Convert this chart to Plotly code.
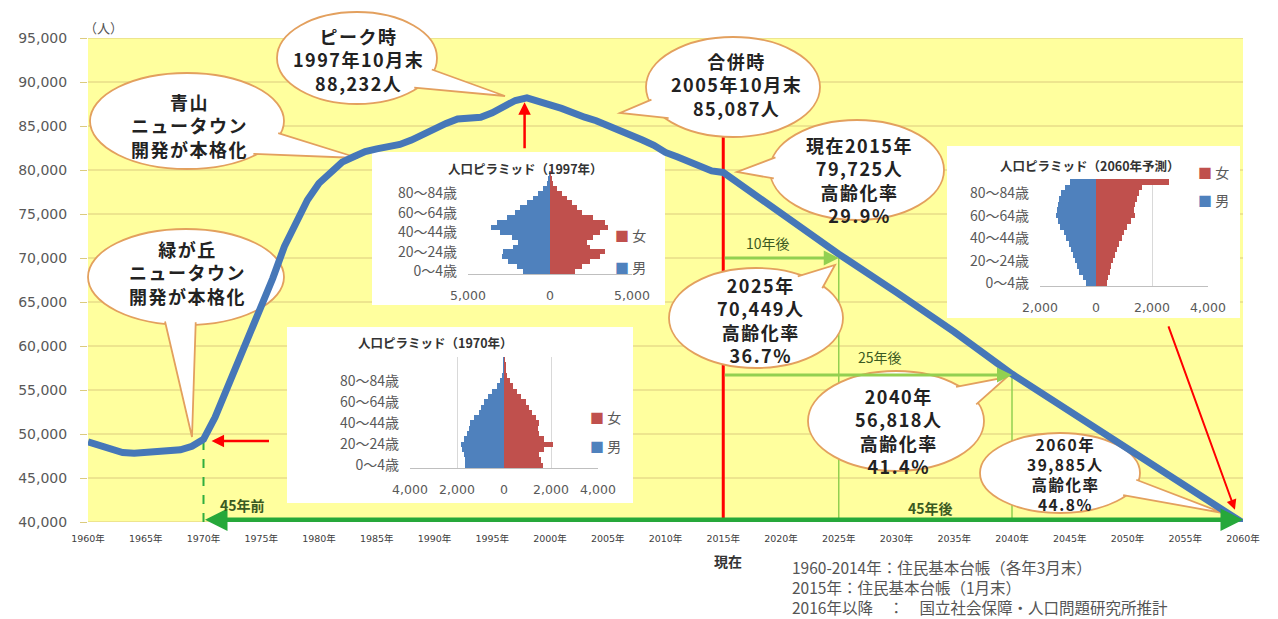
import math
import plotly.graph_objects as go

# ---------------- data ----------------
hist_years = list(range(1960, 2016))
hist_pop = [
    49100, 48700, 48300, 47900, 47800, 47900, 47900, 48000, 48200, 48600,
    49400, 51900, 55000, 58300, 61200, 64300, 67700, 71300, 73900, 76600,
    78500, 79800, 80900, 81500, 82100, 82400, 82600, 82900, 83400, 84100,
    84800, 85300, 85800, 85950, 86000, 86500, 87300, 87900, 88200, 87700,
    87400, 87000, 86400, 86000, 85600, 85100, 84500, 84000, 83400, 82800,
    82000, 81500, 80900, 80300, 79900, 79725,
]
proj_years = [2020, 2025, 2030, 2035, 2040, 2045, 2050, 2055, 2060]
proj_pop = [75100, 70449, 66100, 61600, 56818, 52600, 48500, 44200, 39885]

x_tick_years = list(range(1960, 2061, 5))
x_tick_labels = [f"{y}年" for y in x_tick_years]
y_ticks = list(range(40000, 95001, 5000))

age_labels_21 = [f"{a}〜{a+4}歳" for a in range(0, 100, 5)] + ["100歳以上"]
age_labels_19 = [f"{a}〜{a+4}歳" for a in range(0, 90, 5)] + ["90歳以上"]
age_tick_labels = ["0〜4歳", "20〜24歳", "40〜44歳", "60〜64歳", "80〜84歳"]

male_1970 = [1640, 1670, 1710, 1790, 1830, 1690, 1570, 1500, 1460, 1260, 1070,
             970, 860, 690, 490, 290, 170, 90, 40, 15, 5]
female_1970 = [1640, 1570, 1500, 1710, 2070, 1710, 1500, 1460, 1500, 1360, 1210,
               1070, 930, 740, 570, 400, 260, 140, 90, 60, 30]
male_1997 = [1630, 2030, 2540, 2950, 2850, 2240, 1930, 2340, 3050, 3620, 3250,
             2640, 2130, 1830, 1420, 1020, 710, 450, 200, 80, 20]
female_1997 = [1520, 1930, 2440, 3050, 3350, 2440, 2240, 2640, 3050, 3560, 3350,
               2640, 1930, 1630, 1320, 1020, 710, 450, 200, 100, 40]
male_2060 = [350, 470, 590, 680, 760, 820, 880, 960, 1060, 1150, 1270, 1350,
             1440, 1410, 1370, 1320, 1240, 1120, 940]
female_2060 = [380, 440, 490, 550, 610, 680, 760, 820, 920, 1000, 1120, 1240,
               1390, 1350, 1410, 1470, 1550, 1650, 2600]

# ---------------- layout geometry ----------------
OFF = 8                      # page body margin in the browser
FW, FH = 1278 - OFF, 619 - OFF
L, R, T, B = 88 - OFF, 35, 38 - OFF, 97
W = FW - L - R
H = FH - T - B
YMIN, YMAX = 40000, 95000

def fx(p):
    return (p - OFF - L) / W

def fy(p):
    return (T + H - (p - OFF)) / H

def vy(v):
    return (v - YMIN) / (YMAX - YMIN)

FONT = "Noto Sans CJK JP"
BLUE = "#4677B8"
MALE = "#4F81BD"
FEMALE = "#C0504D"
GRID = "#DCCB7E"
BORDER = "#E3A05E"
DARKGREEN = "#3A5A22"

shapes = []
annotations = []

# yellow plot background
shapes.append(dict(type="rect", xref="paper", yref="paper", x0=0, x1=1, y0=0, y1=1,
                   fillcolor="#FFFF9E", line=dict(width=0), layer="below"))
# horizontal gridlines
for v in y_ticks:
    shapes.append(dict(type="line", xref="paper", yref="y", x0=0, x1=1, y0=v, y1=v,
                       line=dict(color=GRID, width=1), layer="below"))

# white panels for inset pyramids
for (x0, y0, x1, y1) in [(287, 327, 633, 503), (372, 152, 665, 305), (947, 146, 1240, 318)]:
    shapes.append(dict(type="rect", xref="paper", yref="paper", x0=fx(x0), x1=fx(x1),
                       y0=fy(y1), y1=fy(y0), fillcolor="white", line=dict(width=0), layer="below"))

# vertical marker lines
shapes.append(dict(type="line", xref="x", yref="paper", x0=2015, x1=2015, y0=0, y1=vy(84000),
                   line=dict(color="#FF0000", width=3), layer="below"))
shapes.append(dict(type="line", xref="x", yref="paper", x0=1970, x1=1970, y0=0, y1=vy(49300),
                   line=dict(color="#2FAE3E", width=2, dash="dash"), layer="below"))
shapes.append(dict(type="line", xref="x", yref="paper", x0=2025, x1=2025, y0=0, y1=vy(70000),
                   line=dict(color="#92D050", width=1.5), layer="below"))
shapes.append(dict(type="line", xref="x", yref="paper", x0=2040, x1=2040, y0=0, y1=vy(56700),
                   line=dict(color="#92D050", width=1.5), layer="below"))


def bubble(cx, cy, rx, ry, th1, th2, tip):
    shapes.append(dict(type="circle", xref="paper", yref="paper",
                       x0=fx(cx - rx), x1=fx(cx + rx), y0=fy(cy + ry), y1=fy(cy - ry),
                       fillcolor="white", line=dict(color=BORDER, width=1.8), layer="below"))
    pts = []
    for th in (th1, th2):
        t = math.radians(th)
        ex, ey = cx + rx * math.cos(t), cy + ry * math.sin(t)
        dx, dy = ex - cx, ey - cy
        d = math.hypot(dx, dy)
        pts.append((ex - 2.5 * dx / d, ey - 2.5 * dy / d))
    path = (f"M {fx(pts[0][0])},{fy(pts[0][1])} L {fx(tip[0])},{fy(tip[1])} "
            f"L {fx(pts[1][0])},{fy(pts[1][1])}")
    shapes.append(dict(type="path", xref="paper", yref="paper", path=path,
                       fillcolor="white", line=dict(color=BORDER, width=1.8), layer="below"))


def text(xp, yp, s, size, color="#222222", bold=False, xanchor="center", family=FONT,
         yanchor="middle", align="center"):
    annotations.append(dict(xref="paper", yref="paper", x=fx(xp), y=fy(yp),
                            text=f"<b>{s}</b>" if bold else s, showarrow=False,
                            xanchor=xanchor, yanchor=yanchor, align=align,
                            font=dict(family=family, size=size, color=color)))


def btext(xp, yp, lines, size=18):
    s = "<br>".join(f"<span style='letter-spacing:1.5px'>{ln}</span>" for ln in lines)
    text(xp, yp, s, size, bold=True)


# speech bubbles
bubble(357, 58, 80, 46, 15, 42, (505, 96))
btext(358, 60, ["ピーク時", "1997年10月末", "88,232人"])

bubble(187, 121, 97, 48, 15, 45, (358, 158))
btext(189, 126, ["青山", "ニュータウン", "開発が本格化"])

bubble(186, 277, 98, 48, 84, 103, (192, 437))
btext(187, 272, ["緑が丘", "ニュータウン", "開発が本格化"])

bubble(733, 87, 87, 50, 140, 165, (620, 113))
btext(736, 85, ["合併時", "2005年10月末", "85,087人"])

bubble(857, 170, 87, 50, 170, 195, (737, 172))
btext(859, 180, ["現在2015年", "79,725人", "高齢化率", "29.9%"])

bubble(756, 318, 87, 50, -60, -38, (835, 265))
btext(760, 320, ["2025年", "70,449人", "高齢化率", "36.7%"])

bubble(896, 421, 88, 50, -45, -20, (1007, 377))
btext(898, 431, ["2040年", "56,818人", "高齢化率", "41.4%"])

bubble(1060, 473, 80, 40, 10, 35, (1223, 513))
btext(1065, 474, ["2060年", "39,885人", "高齢化率", "44.8%"], size=15.5)


def arrow(x, y, ax, ay, color, width, side="end"):
    annotations.append(dict(xref="x", yref="y", axref="x", ayref="y", x=x, y=y, ax=ax, ay=ay,
                            text="", showarrow=True, arrowhead=2, arrowsize=1,
                            arrowwidth=width, arrowcolor=color, arrowside=side,
                            standoff=0, startstandoff=0))


arrow(1997.8, 87700, 1997.8, 82300, "#FF0000", 2.5)
arrow(1970.7, 49200, 1975.8, 49200, "#FF0000", 2.5)
arrow(2059.3, 41400, 2053.5, 62400, "#FF0000", 2)
arrow(2060, 40250, 1970, 40250, "#26A83A", 4.5, side="end+start")
arrow(2025, 70000, 2015, 70000, "#92D050", 3)
arrow(2040, 56700, 2015, 56700, "#92D050", 3)

text(768, 243, "10年後", 14, color=DARKGREEN)
text(880, 357, "25年後", 14, color=DARKGREEN)
text(242, 505, "45年前", 14, color=DARKGREEN, bold=True)
text(930, 508, "45年後", 14, color=DARKGREEN, bold=True)

text(103, 27, "（人）", 13, color="#555555")
text(728, 561, "現在", 14, color="#333333", bold=True)
text(790, 587,
     "1960-2014年：住民基本台帳（各年3月末）<br>"
     "2015年：住民基本台帳（1月末）<br>"
     "2016年以降　：　国立社会保障・人口問題研究所推計",
     15.5, color="#555555", xanchor="left", align="left")

# inset titles and legends
text(435, 342, "人口ピラミッド（1970年）", 12.5, color="#333333", bold=True)
text(525, 168, "人口ピラミッド（1997年）", 12.5, color="#333333", bold=True)
text(1090, 165, "人口ピラミッド（2060年予測）", 12.5, color="#333333", bold=True)
for (lx, ly1, ly2) in [(588, 417, 446), (613, 235, 267), (1196, 172, 200)]:
    text(lx, ly1, f"<span style='color:{FEMALE}'>■</span> 女", 14, color="#595959", xanchor="left")
    text(lx, ly2, f"<span style='color:{MALE}'>■</span> 男", 14, color="#595959", xanchor="left")

# ---------------- figure ----------------
fig = go.Figure()
fig.add_trace(go.Scatter(x=hist_years + proj_years, y=hist_pop + proj_pop, mode="lines",
                         line=dict(color=BLUE, width=7), xaxis="x", yaxis="y", hoverinfo="x+y"))

insets = [
    ("2", age_labels_21, male_1970, female_1970, (410, 598), (357, 468), [-4000, 4000],
     [-4000, -2000, 0, 2000, 4000], ["4,000", "2,000", "0", "2,000", "4,000"]),
    ("3", age_labels_21, male_1997, female_1997, (468, 632), (171, 274), [-5000, 5000],
     [-5000, 0, 5000], ["5,000", "0", "5,000"]),
    ("4", age_labels_19, male_2060, female_2060, (1040, 1208), (179, 286), [-2000, 4000],
     [-2000, 0, 2000, 4000], ["2,000", "0", "2,000", "4,000"]),
]

axes_layout = {}
for (n, cats, male, female, pxr, pyr, xr, tv, tt) in insets:
    fig.add_trace(go.Bar(y=cats, x=[-v for v in male], orientation="h", width=1.0,
                         marker=dict(color=MALE, line=dict(width=0)),
                         xaxis="x" + n, yaxis="y" + n, name="男"))
    fig.add_trace(go.Bar(y=cats, x=female, orientation="h", width=1.0,
                         marker=dict(color=FEMALE, line=dict(width=0)),
                         xaxis="x" + n, yaxis="y" + n, name="女"))
    axes_layout["xaxis" + n] = dict(
        domain=[fx(pxr[0]), fx(pxr[1])], anchor="y" + n, range=xr, tickmode="array",
        tickvals=tv, ticktext=tt, showgrid=True, gridcolor="#D9D9D9", zeroline=False,
        showline=True, linecolor="#BFBFBF", ticks="", ticklabelstandoff=10,
        tickfont=dict(family="DejaVu Sans", size=12.5, color="#595959"), fixedrange=True)
    axes_layout["yaxis" + n] = dict(
        domain=[fy(pyr[1]), fy(pyr[0])], anchor="x" + n, type="category",
        categoryorder="array", categoryarray=cats, range=[-0.5, len(cats) - 0.5],
        tickmode="array", tickvals=age_tick_labels, ticktext=age_tick_labels,
        showgrid=False, zeroline=False, showline=False, ticks="", ticklabelstandoff=10,
        tickfont=dict(family=FONT, size=14, color="#595959"), fixedrange=True)

fig.update_layout(
    width=FW, height=FH,
    margin=dict(l=L, r=R, t=T, b=B, autoexpand=False),
    paper_bgcolor="white", plot_bgcolor="rgba(0,0,0,0)",
    showlegend=False, barmode="overlay", bargap=0,
    font=dict(family=FONT, color="#333333"),
    xaxis=dict(domain=[0, 1], range=[1960, 2060], tickmode="array", tickvals=x_tick_years,
               ticktext=x_tick_labels, showgrid=False, zeroline=False, showline=False,
               ticks="", ticklabelstandoff=9,
               tickfont=dict(family="DejaVu Sans, " + FONT, size=9.5, color="#404040")),
    yaxis=dict(domain=[0, 1], range=[YMIN, YMAX], tickmode="array", tickvals=y_ticks,
               tickformat=",", showgrid=False, zeroline=False, showline=False,
               ticks="outside", ticklen=7, tickcolor=GRID, ticklabelstandoff=10,
               tickfont=dict(family="DejaVu Sans", size=14, color="#595959")),
    shapes=shapes,
    annotations=annotations,
    **axes_layout,
)

fig.write_html("out.html")
